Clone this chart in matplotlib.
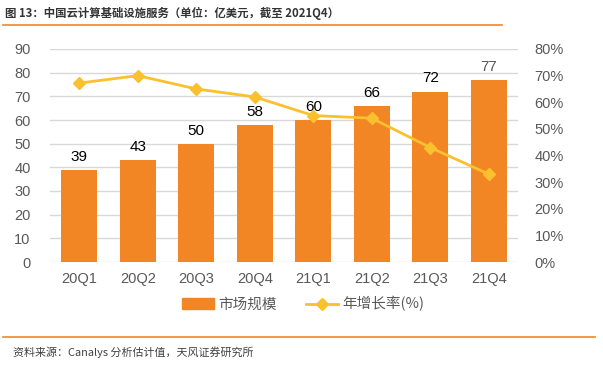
import matplotlib
matplotlib.use("Agg")
import matplotlib.pyplot as plt
from matplotlib.lines import Line2D
from matplotlib.patches import Patch

plt.rcParams['font.family'] = ['Liberation Sans', 'Noto Sans CJK SC', 'DejaVu Sans']

categories = ["20Q1", "20Q2", "20Q3", "20Q4", "21Q1", "21Q2", "21Q3", "21Q4"]
market = [39, 43, 50, 58, 60, 66, 72, 77]
growth = [67.2, 70.0, 65.0, 62.0, 55.0, 54.0, 43.0, 33.0]
left_ticks = list(range(0, 91, 10))
right_ticks = list(range(0, 81, 10))

bar_color = "#F28524"
line_color = "#FBC02D"
tick_color = "#595959"
accent = "#F28524"
cjk = ['Noto Sans CJK SC', 'DejaVu Sans']

fig = plt.figure(figsize=(6.03, 3.70), dpi=100)
ax = fig.add_axes([50/603, 1-262/370, (518-50)/603, (262-49)/370])
x = list(range(len(categories)))
bars = ax.bar(x, market, width=0.62, color=bar_color, zorder=2)
ax.set_ylim(0, 90)
ax.set_yticks(left_ticks)
ax.set_xlim(-0.5, len(categories)-0.5)
ax.set_xticks(x)
ax.set_xticklabels(categories)
ax.grid(axis='y', color='#D9D9D9', linewidth=1, zorder=0)
for s in ax.spines.values():
    s.set_visible(False)
ax.tick_params(axis='both', length=0, colors=tick_color, labelsize=10.5)
ax.tick_params(axis='y', pad=14)
ax.tick_params(axis='x', pad=7)
for xi, v in zip(x, market):
    col = '#000000' if v != market[-1] else tick_color
    ax.text(xi, v + 2.6, str(v), ha='center', va='bottom', fontsize=11, color=col)

ax2 = ax.twinx()
ax2.plot(x, growth, color=line_color, marker='D', markersize=6, linewidth=2, zorder=3)
ax2.set_ylim(0, 80)
ax2.set_yticks(right_ticks)
ax2.set_yticklabels([f"{t}%" for t in right_ticks])
for s in ax2.spines.values():
    s.set_visible(False)
ax2.tick_params(axis='y', length=0, colors=tick_color, labelsize=10.5, pad=12)

handles = [Patch(color=bar_color), Line2D([0], [0], color=line_color, marker='D', markersize=6, linewidth=2)]
fig.legend(handles, ["市场规模", "年增长率(%)"], loc='center', bbox_to_anchor=(303/603, 1-304/370),
           ncol=2, frameon=False, prop={'family': cjk, 'size': 10.5}, handlelength=2.2,
           columnspacing=2.0, labelcolor=tick_color, handletextpad=0.3)

fig.text(5/603, 1-13/370, "图 13：中国云计算基础设施服务（单位：亿美元，截至 2021Q4）", fontsize=8.2,
         fontweight='bold', color='#333333', va='center', ha='left', family=cjk)
fig.add_artist(Line2D([3/603, 502/603], [1-25/370, 1-25/370], color=accent, linewidth=1.2))
fig.add_artist(Line2D([3/603, 595/603], [1-337/370, 1-337/370], color=accent, linewidth=1.2))
fig.text(13/603, 1-352/370, "资料来源：Canalys 分析估计值，天风证券研究所", fontsize=7.9,
         color='#404040', va='center', ha='left', family=cjk)

fig.savefig("out.png", dpi=100)
